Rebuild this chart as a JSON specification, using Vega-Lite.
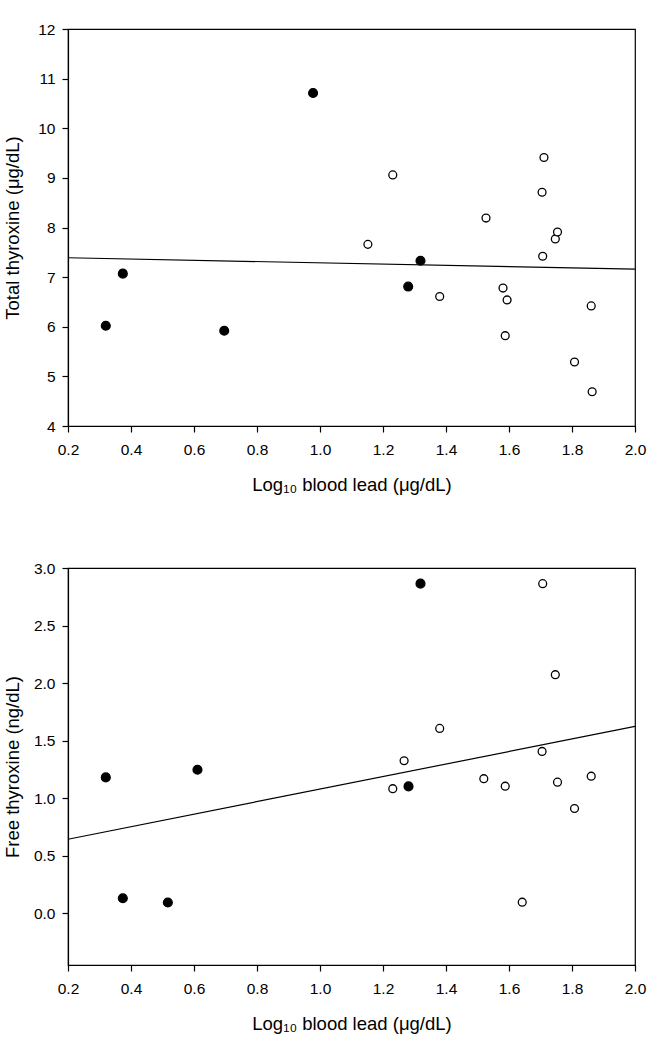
{
  "$schema": "https://vega.github.io/schema/vega-lite/v6.json",
  "padding": {"left": 2, "top": 21, "right": 20, "bottom": 5},
  "bounds": "flush",
  "spacing": 142,
  "config": {
    "font": "Liberation Sans",
    "view": {"stroke": "#000", "strokeWidth": 1.2},
    "axis": {
      "grid": false,
      "domainColor": "#000",
      "domainWidth": 1.2,
      "tickColor": "#000",
      "tickWidth": 1.2,
      "tickSize": 6,
      "labelFont": "Liberation Sans",
      "labelFontSize": 15.5,
      "labelColor": "#000",
      "titleFont": "Liberation Sans",
      "titleFontSize": 18.5,
      "titleFontWeight": "normal",
      "titleColor": "#000"
    }
  },
  "datasets": {
    "total": [
      {"lead": 0.320, "value": 6.02, "group": "Group A"},
      {"lead": 0.374, "value": 7.07, "group": "Group A"},
      {"lead": 0.696, "value": 5.92, "group": "Group A"},
      {"lead": 0.978, "value": 10.71, "group": "Group A"},
      {"lead": 1.280, "value": 6.81, "group": "Group A"},
      {"lead": 1.319, "value": 7.33, "group": "Group A"},
      {"lead": 1.152, "value": 7.66, "group": "Group B"},
      {"lead": 1.231, "value": 9.06, "group": "Group B"},
      {"lead": 1.380, "value": 6.61, "group": "Group B"},
      {"lead": 1.527, "value": 8.19, "group": "Group B"},
      {"lead": 1.581, "value": 6.78, "group": "Group B"},
      {"lead": 1.588, "value": 5.82, "group": "Group B"},
      {"lead": 1.594, "value": 6.54, "group": "Group B"},
      {"lead": 1.705, "value": 8.71, "group": "Group B"},
      {"lead": 1.707, "value": 7.42, "group": "Group B"},
      {"lead": 1.711, "value": 9.41, "group": "Group B"},
      {"lead": 1.747, "value": 7.77, "group": "Group B"},
      {"lead": 1.754, "value": 7.91, "group": "Group B"},
      {"lead": 1.808, "value": 5.29, "group": "Group B"},
      {"lead": 1.861, "value": 6.42, "group": "Group B"},
      {"lead": 1.864, "value": 4.69, "group": "Group B"}
    ],
    "totalFit": [
      {"lead": 0.2, "value": 7.39},
      {"lead": 2.0, "value": 7.16}
    ],
    "free": [
      {"lead": 0.320, "value": 1.18, "group": "Group A"},
      {"lead": 0.374, "value": 0.13, "group": "Group A"},
      {"lead": 0.517, "value": 0.093, "group": "Group A"},
      {"lead": 0.611, "value": 1.247, "group": "Group A"},
      {"lead": 1.281, "value": 1.102, "group": "Group A"},
      {"lead": 1.319, "value": 2.864, "group": "Group A"},
      {"lead": 1.231, "value": 1.082, "group": "Group B"},
      {"lead": 1.267, "value": 1.325, "group": "Group B"},
      {"lead": 1.380, "value": 1.606, "group": "Group B"},
      {"lead": 1.520, "value": 1.169, "group": "Group B"},
      {"lead": 1.588, "value": 1.104, "group": "Group B"},
      {"lead": 1.642, "value": 0.096, "group": "Group B"},
      {"lead": 1.705, "value": 1.406, "group": "Group B"},
      {"lead": 1.707, "value": 2.864, "group": "Group B"},
      {"lead": 1.747, "value": 2.073, "group": "Group B"},
      {"lead": 1.754, "value": 1.139, "group": "Group B"},
      {"lead": 1.808, "value": 0.910, "group": "Group B"},
      {"lead": 1.861, "value": 1.191, "group": "Group B"}
    ],
    "freeFit": [
      {"lead": 0.2, "value": 0.643},
      {"lead": 2.0, "value": 1.623}
    ]
  },
  "vconcat": [
    {
      "width": 567,
      "height": 397,
      "encoding": {
        "x": {
          "field": "lead", "type": "quantitative",
          "scale": {"domain": [0.2, 2.0], "nice": false, "zero": false},
          "axis": {
            "title": "Log₁₀ blood lead (μg/dL)",
            "values": [0.2, 0.4, 0.6, 0.8, 1.0, 1.2, 1.4, 1.6, 1.8, 2.0],
            "format": ".1f", "labelPadding": 10, "labelFlush": false,
            "titleY": 49.5
          }
        },
        "y": {
          "field": "value", "type": "quantitative",
          "scale": {"domain": [4, 12], "nice": false, "zero": false},
          "axis": {
            "title": "Total thyroxine (μg/dL)",
            "values": [4, 5, 6, 7, 8, 9, 10, 11, 12],
            "format": "d", "labelPadding": 7, "labelFlush": false,
            "titleX": -46, "titleY": 198.5
          }
        }
      },
      "layer": [
        {
          "data": {"name": "totalFit"},
          "mark": {"type": "line", "color": "#000", "strokeWidth": 1.2}
        },
        {
          "data": {"name": "total"},
          "mark": {"type": "point", "shape": "circle", "filled": true, "stroke": "#000", "strokeWidth": 1.3, "opacity": 1},
          "encoding": {
            "fill": {"field": "group", "type": "nominal", "scale": {"domain": ["Group A", "Group B"], "range": ["#000", "#fff"]}, "legend": null},
            "size": {"field": "group", "type": "nominal", "scale": {"domain": ["Group A", "Group B"], "range": [78, 62]}, "legend": null}
          }
        }
      ]
    },
    {
      "width": 567,
      "height": 397,
      "encoding": {
        "x": {
          "field": "lead", "type": "quantitative",
          "scale": {"domain": [0.2, 2.0], "nice": false, "zero": false},
          "axis": {
            "title": "Log₁₀ blood lead (μg/dL)",
            "values": [0.2, 0.4, 0.6, 0.8, 1.0, 1.2, 1.4, 1.6, 1.8, 2.0],
            "format": ".1f", "labelPadding": 10, "labelFlush": false,
            "titleY": 49.5
          }
        },
        "y": {
          "field": "value", "type": "quantitative",
          "scale": {"domain": [-0.45, 3.0], "nice": false, "zero": false},
          "axis": {
            "title": "Free thyroxine (ng/dL)",
            "values": [0, 0.5, 1.0, 1.5, 2.0, 2.5, 3.0],
            "format": ".1f", "labelPadding": 7, "labelFlush": false,
            "titleX": -46, "titleY": 198.5
          }
        }
      },
      "layer": [
        {
          "data": {"name": "freeFit"},
          "mark": {"type": "line", "color": "#000", "strokeWidth": 1.2}
        },
        {
          "data": {"name": "free"},
          "mark": {"type": "point", "shape": "circle", "filled": true, "stroke": "#000", "strokeWidth": 1.3, "opacity": 1},
          "encoding": {
            "fill": {"field": "group", "type": "nominal", "scale": {"domain": ["Group A", "Group B"], "range": ["#000", "#fff"]}, "legend": null},
            "size": {"field": "group", "type": "nominal", "scale": {"domain": ["Group A", "Group B"], "range": [78, 62]}, "legend": null}
          }
        }
      ]
    }
  ]
}
